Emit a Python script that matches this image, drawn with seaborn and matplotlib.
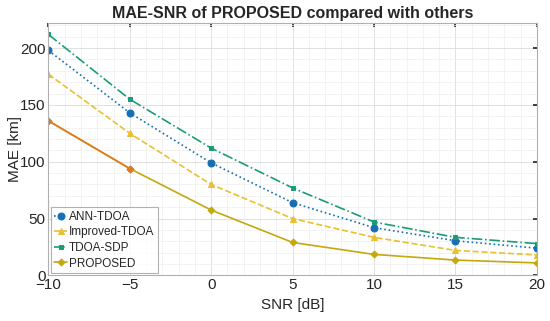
import numpy as np
import pandas as pd
import matplotlib
matplotlib.use('Agg')
import matplotlib.pyplot as plt
import seaborn as sns
from matplotlib.ticker import MultipleLocator

snr = [-10, -5, 0, 5, 10, 15, 20]
ann_tdoa = [198, 143, 99, 64, 42, 30.5, 24]
improved_tdoa = [177, 125, 80, 50, 33.5, 22, 18]
tdoa_sdp = [212, 155, 112, 77, 47, 33.5, 28]
proposed = [136, 94, 57.5, 29, 18.5, 13.5, 11]

series = [
    ('ANN-TDOA', ann_tdoa, '#166fb4', ':', 'o', 5),
    ('Improved-TDOA', improved_tdoa, '#e8c030', '--', '^', 4),
    ('TDOA-SDP', tdoa_sdp, '#1a9c78', '-.', 's', 3.5),
    ('PROPOSED', proposed, '#c4a80e', '-', 'D', 3.5),
]

sns.set_theme(style='white')
plt.rcParams['font.family'] = ['Liberation Sans', 'DejaVu Sans']

fig = plt.figure(figsize=(5.5, 3.21), dpi=100)
ax = fig.add_axes([0.088, 0.142, 0.888, 0.786])

for name, vals, color, ls, mk, ms in series:
    df = pd.DataFrame({'SNR': snr, 'MAE': vals})
    sns.lineplot(data=df, x='SNR', y='MAE', ax=ax, color=color, linestyle=ls,
                 marker=mk, markersize=ms, markeredgecolor=color, linewidth=1.2,
                 label=name)

# first segment of PROPOSED appears orange in the reference
seg = pd.DataFrame({'SNR': snr[:2], 'MAE': proposed[:2]})
sns.lineplot(data=seg, x='SNR', y='MAE', ax=ax, color='#e07a1f', linestyle='-',
             marker='D', markersize=3.5, markeredgecolor='#e07a1f', linewidth=1.2)

ax.set_xlim(-10, 20)
ax.set_ylim(0, 222)
ax.xaxis.set_minor_locator(MultipleLocator(1))
ax.yaxis.set_major_locator(MultipleLocator(50))
ax.yaxis.set_minor_locator(MultipleLocator(10))
ax.set_xticks(snr)
ax.set_xticklabels(['\u221210', '\u22125', '0', '5', '10', '15', '20'])
ax.grid(which='major', color='#dcdcdc', linewidth=0.6)
ax.grid(which='minor', color='#efefef', linewidth=0.5)
ax.tick_params(which='both', direction='in', top=True, right=True, length=3,
               labelsize=11, colors='#262626', pad=2)
ax.tick_params(which='minor', length=0)
for sp in ax.spines.values():
    sp.set_color('#b0b0b0')
    sp.set_linewidth(0.8)

ax.set_xlabel('SNR [dB]', fontsize=11, color='#262626', labelpad=4)
ax.set_ylabel('MAE [km]', fontsize=11, color='#262626', labelpad=-1)
ax.set_title('MAE-SNR of PROPOSED compared with others', fontsize=11.5,
             fontweight='bold', pad=4)

handles, labels = ax.get_legend_handles_labels()
leg = ax.legend(handles[:4], labels[:4], loc='lower left', fontsize=8.5,
                handlelength=1.1, handletextpad=0.15, borderpad=0.3,
                labelspacing=0.3, borderaxespad=0.2, frameon=True, fancybox=False)
leg.get_frame().set_edgecolor('#a0a0a0')
leg.get_frame().set_linewidth(0.8)

fig.savefig('out.png', dpi=100)
